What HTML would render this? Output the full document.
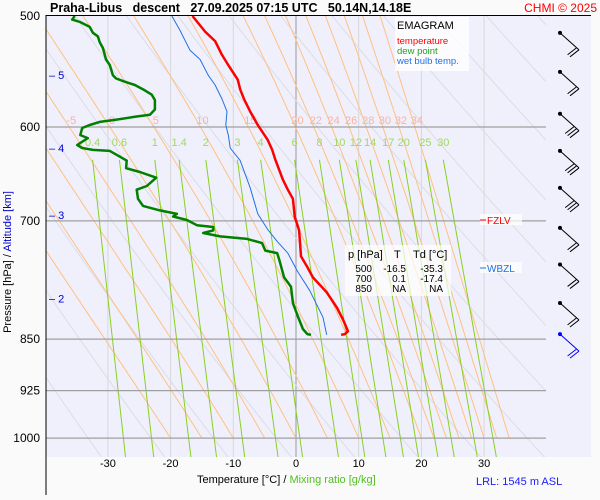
<!DOCTYPE html>
<html><head><meta charset="utf-8"><style>
body{margin:0;background:#fafafa;}
svg{display:block;font-family:"Liberation Sans",sans-serif;}
</style></head><body>
<svg id="c" width="600" height="500"></svg>
<script>
const tempP=[500,513,521,533,542,555,564,573,585,598,613,623,633,654,665,675,695,711,742,755,768,787,807,823,839,843,844];
const tempT=[-16.5,-14.5,-12.9,-11.8,-10.8,-9.3,-8.9,-8.3,-7.3,-6.1,-4.5,-3.8,-3.3,-2.1,-1.3,-0.5,-0.2,0.5,0.8,1.8,2.7,4.9,6.5,7.5,8.3,7.8,7.2];
const dewP=[500,503,505,509,514,517,522,527,537,542,551,554,557,560,565,569,574,583,588,590,593,595,598,601,608,611,618,621,623,624,634,642,646,652,661,665,675,683,688,692,695,699,705,707,711,714,718,721,726,735,738,748,768,780,801,819,836,843,844];
const dewT=[-35.3,-35.7,-34.4,-32.9,-32.4,-31.6,-31.3,-30.8,-30.3,-29.7,-29.2,-28.7,-27.3,-25.7,-24.1,-23.0,-22.5,-22.5,-23.3,-25.7,-28.9,-31.3,-32.9,-34.1,-34.4,-33.2,-34.9,-34.1,-32.4,-29.7,-27.0,-27.1,-24.9,-22.3,-23.8,-25.4,-25.2,-24.4,-21.7,-19.0,-19.6,-17.4,-15.8,-13.2,-13.2,-14.8,-12.1,-7.8,-5.4,-4.9,-3.0,-2.6,-1.9,-0.8,-0.5,0.3,1.1,1.8,2.4];
const wbP=[500,512,529,537,551,560,573,585,598,608,621,634,663,692,710,724,738,760,785,820,844];
const wbT=[-19.8,-18.5,-16.9,-15.3,-14.0,-12.9,-11.8,-11.0,-11.2,-10.8,-10.5,-8.9,-7.3,-6.1,-4.5,-3.0,-1.3,0.2,2.2,4.3,4.9];
const tempTicks=[-30,-20,-10,0,10,20,30];
const presTicks=[500,600,700,850,925,1000];
const altTicks=[5,4,3,2];
const altPres=[551,621,693,795];
const mixRatios=[0.4,0.6,1,1.4,2,3,4,6,8,10,12,14,17,20,25,30];
const thetaW=[-20,-15,-10,-5,0,5,10,15,20,22,24,26,28,30,32,34];
const thetaW_labels=[-5,0,5,10,15,20,22,24,26,28,30,32,34];
const thetaDry=[230,240,250,260,270,280,290,300,310,320,330,340,350,360,370,380,390,400,410];
const windPres=[514,548,587,624,663,708,752,801,843];

const X=t=>296+6.27*t;
const Y=p=>16+609*Math.log(p/500);
const svg=document.getElementById('c');
const NS='http://www.w3.org/2000/svg';
function el(tag,attrs,parent){const e=document.createElementNS(NS,tag);for(const k in attrs)e.setAttribute(k,attrs[k]);(parent||svg).appendChild(e);return e;}
function txt(s,attrs,parent){const e=el('text',attrs,parent);e.textContent=s;return e;}
const es=t=>6.112*Math.exp(17.67*t/(t+243.5));

const bg=el('rect',{x:46,y:16,width:545,height:441,fill:'#f0f0fc'});

const defs=el('defs',{});const cp=el('clipPath',{id:'clip'},defs);el('rect',{x:46,y:16,width:500,height:441},cp);
const g=el('g',{'clip-path':'url(#clip)'});


for(let t=-40;t<=40;t+=10){const l=el('line',{x1:X(t),x2:X(t),y1:16,y2:457,stroke:t===0?'#999':'#d8d8d8','stroke-width':1},g);
}
thetaDry.forEach(th=>{let d='';for(let p=400;p<=1040;p+=10){const t=th*Math.pow(p/1000,0.2857)-273.15;d+=(d?'L':'M')+X(t).toFixed(1)+','+Y(p).toFixed(1);}
const l=el('path',{d,fill:'none',stroke:'#dcdce4','stroke-width':1},g);});
const moistAt600={};
thetaW.forEach(tw=>{let T=tw+273.15,p=1000,d='M'+X(tw).toFixed(1)+','+Y(1000).toFixed(1);
for(p=1000;p>500;){const dp=-2;const tc=T-273.15;const e=es(tc);const rs=0.622*e/(p-e);
const dTdp=(287*T+2.5e6*rs)/(p*(1004+2.5e6*2.5e6*rs*0.622/(287*T*T)));T+=dTdp*dp;p+=dp;
d+='L'+X(T-273.15).toFixed(1)+','+Y(p).toFixed(1);if(Math.abs(p-600)<1)moistAt600[tw]=T-273.15;}
const l=el('path',{d,fill:'none',stroke:'#ffc080','stroke-width':1},g);});
mixRatios.forEach(w=>{const td=p=>{const e=(w/1000)*p/(0.622+w/1000);const a=Math.log(e/6.112);return 243.5*a/(17.67-a);};
const l=el('line',{x1:X(td(629)),y1:Y(629)+4,x2:X(td(1035)),y2:Y(1035),stroke:'#88d020','stroke-width':1},g);

const t=txt(String(w),{x:X(td(629)),y:146,'font-size':11,fill:'#a0d860','text-anchor':'middle'});
});
thetaW_labels.forEach(tw=>{const t=txt(String(tw),{x:X(moistAt600[tw])+2,y:124,'font-size':11,fill:'#ffb0a0','text-anchor':'middle'});
});
presTicks.forEach(p=>{if(p===500)return;const l=el('line',{x1:46,x2:546,y1:Y(p),y2:Y(p),stroke:'#a0a0a0','stroke-width':1.3});
});
function prof(P,T,color,w,name){let d='';P.forEach((p,i)=>{d+=(i?'L':'M')+X(T[i]).toFixed(1)+','+Y(p).toFixed(1);});
const l=el('path',{d,fill:'none',stroke:color,'stroke-width':w,'stroke-linejoin':'round'});}
prof(wbP,wbT,'#2070e0',1,'wet-bulb-line');
prof(dewP,dewT,'#008000',2.5,'dew-point-line');
prof(tempP,tempT,'#ff0000',2.5,'temperature-line');
const ax=el('line',{x1:46,x2:46,y1:15,y2:495,stroke:'#000'});
const tl=el('line',{x1:46,x2:591,y1:15.5,y2:15.5,stroke:'#000'});
presTicks.forEach(p=>{const t=txt(String(p),{x:40,y:Y(p)+4,'font-size':12,'text-anchor':'end',fill:'#000'});});
tempTicks.forEach(v=>{const t=txt(String(v),{x:X(v),y:467,'font-size':11,'text-anchor':'middle',fill:'#000'});});
altTicks.forEach((a,i)=>{const t=txt('– '+a,{x:49,y:Y(altPres[i])+4,'font-size':11,fill:'#0000d0'});});
let yt=el('text',{transform:'translate(11,262) rotate(-90)','font-size':11,'text-anchor':'middle'});

yt.innerHTML='<tspan fill="#000">Pressure [hPa]  /  </tspan><tspan fill="#0000d0">Altitude [km]</tspan>';
let xt=el('text',{x:197,y:483,'font-size':11});
xt.innerHTML='<tspan fill="#000">Temperature [°C]  /  </tspan><tspan fill="#50c020">Mixing ratio [g/kg]</tspan>';
let t1=txt('LRL: 1545 m ASL',{x:476,y:485,'font-size':11,fill:'#2020ff'});
let ti=txt('Praha-Libus   descent   27.09.2025 07:15 UTC   50.14N,14.18E',{x:50,y:12,'font-size':12.5,'font-weight':'bold',fill:'#000'});
ti.setAttribute('style','white-space:pre');
let cr=txt('CHMI © 2025',{x:597,y:12,'font-size':12,fill:'#ff0000','text-anchor':'end'});
const lg=el('g',{});
el('rect',{x:395,y:17,width:74,height:54,fill:'#fff','fill-opacity':0.8},lg);
txt('EMAGRAM',{x:397,y:29,'font-size':11,fill:'#000'},lg);
[['temperature','#ff0000',44],['dew point','#20a020',54],['wet bulb temp.','#2070e0',64]].forEach(([s,c,y])=>{const t=txt(s,{x:397,y,'font-size':9.5,fill:c},lg);});
el('rect',{x:480,y:214,width:42,height:11,fill:'#fff','fill-opacity':0.7});
el('rect',{x:480,y:262,width:42,height:11,fill:'#fff','fill-opacity':0.7});
el('line',{x1:480,x2:486,y1:220,y2:220,stroke:'#ff0000'});
let fz=txt('FZLV',{x:487,y:224,'font-size':10,fill:'#ff0000'});
el('line',{x1:480,x2:486,y1:268,y2:268,stroke:'#2070e0'});
let wb=txt('WBZL',{x:487,y:272,'font-size':10,fill:'#2070e0'});
const tb=el('g',{});
el('rect',{x:345,y:245,width:106,height:51,fill:'#fff','fill-opacity':0.7},tb);
txt('p [hPa]',{x:348,y:258,'font-size':11},tb);txt('T',{x:394,y:258,'font-size':11},tb);txt('Td [°C]',{x:413,y:258,'font-size':11},tb);
[['500','-16.5','-35.3'],['700','0.1','-17.4'],['850','NA','NA']].forEach((r,i)=>{const y=272+i*10;
txt(r[0],{x:372,y,'font-size':10,'text-anchor':'end'},tb);txt(r[1],{x:406,y,'font-size':10,'text-anchor':'end'},tb);txt(r[2],{x:443,y,'font-size':10,'text-anchor':'end'},tb);});
windPres.forEach((p,i)=>{const y=Y(p);const c=i===windPres.length-1?'#0000ff':'#000';
const wg=el('g',{stroke:c,'stroke-width':1,fill:'none'});
el('circle',{cx:560,cy:y,r:1.5,fill:c},wg);
el('line',{x1:560,y1:y,x2:579,y2:y+17},wg);
const n=(i>=2&&i<=4)?3:2;
for(let k=0;k<n;k++){const sx=579-k*2.4,sy=y+17-k*2.1;el('line',{x1:sx,y1:sy,x2:sx-9,y2:sy+7},wg);}
});
</script>
</body></html>
